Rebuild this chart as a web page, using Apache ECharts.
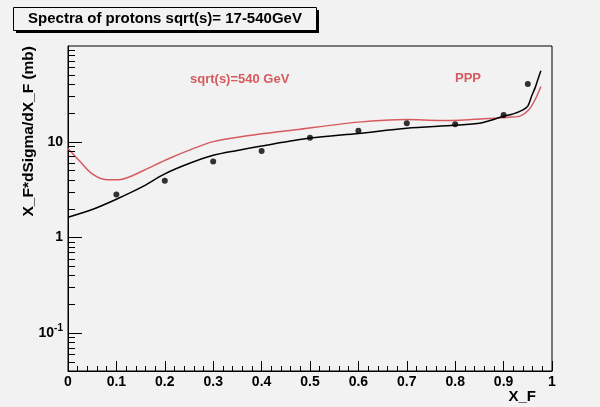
<!DOCTYPE html>
<html>
<head>
<meta charset="utf-8">
<script src="https://cdn.jsdelivr.net/npm/echarts@6/dist/echarts.min.js"></script>
<style>
  html, body { margin: 0; padding: 0; background: #f2f2f2; }
  #main { width: 600px; height: 407px; }
</style>
</head>
<body>
<div id="main"></div>
<script>
// data
const blackX = [0.0, 0.05, 0.1, 0.15, 0.2, 0.25, 0.3, 0.35, 0.4, 0.5, 0.6, 0.7, 0.8, 0.85, 0.87, 0.9, 0.92, 0.94, 0.95, 0.958, 0.965, 0.971, 0.977];
const blackY = [1.62, 1.95, 2.5, 3.3, 4.6, 5.9, 7.2, 8.1, 9.0, 10.9, 12.2, 13.8, 14.8, 15.6, 16.5, 18.4, 19.5, 21.5, 23.5, 30, 36.5, 45, 55];

const redX = [0.0, 0.025, 0.05, 0.08, 0.105, 0.135, 0.165, 0.21, 0.26, 0.3, 0.36, 0.47, 0.6, 0.7, 0.77, 0.84, 0.88, 0.91, 0.935, 0.952, 0.965, 0.977];
const redY = [8.5, 6.2, 4.6, 4.0, 4.0, 4.45, 5.25, 6.7, 8.5, 10.0, 11.3, 13.3, 16.0, 17.0, 16.6, 17.1, 17.6, 18.0, 18.6, 21.5, 27.4, 37.7];

const pointX = [0.1, 0.2, 0.3, 0.4, 0.5, 0.6, 0.7, 0.8, 0.9, 0.95];
const pointY = [2.8, 3.9, 6.2, 8.0, 11.0, 13.0, 15.6, 15.2, 19.0, 40];

const yMajor = [0.1, 1, 10];
const yMinor = [0.05, 0.06, 0.07, 0.08, 0.09, 0.2, 0.3, 0.4, 0.5, 0.6, 0.7, 0.8, 0.9,
                2, 3, 4, 5, 6, 7, 8, 9, 20, 30, 40, 50, 60, 70, 80, 90];

const FONT = 'Liberation Sans';
const RED = '#d65b5f';

function pairs(xs, ys) {
    return xs.map((x, i) => [x, ys[i]]);
}

let chart = echarts.init(document.getElementById('main'));

// ROOT style log ticks (2..9 in every decade), drawn as thin rects into the frame
let tickSeries = {
    type: 'custom',
    name: 'yticks',
    silent: true,
    clip: false,
    z: 6,
    data: yMajor.concat(yMinor).map(v => [0, v]),
    renderItem: function (params, api) {
        let v = api.value(1);
        let p = api.coord([0, v]);
        let len = yMajor.indexOf(v) >= 0 ? 14 : 7;
        return {
            type: 'rect',
            shape: { x: Math.round(p[0]), y: Math.round(p[1]), width: len, height: 1 },
            style: { fill: '#000' }
        };
    }
};

let option = {
    backgroundColor: '#f2f2f2',
    animation: false,
    grid: {
        left: 68, right: 48, top: 46, bottom: 36,
        show: true, borderColor: '#000', borderWidth: 1, backgroundColor: '#f2f2f2'
    },
    xAxis: {
        type: 'value',
        min: 0, max: 1, interval: 0.1,
        axisLine: { lineStyle: { color: '#000', width: 1 } },
        axisTick: { show: true, inside: true, length: 10, lineStyle: { color: '#000' } },
        minorTick: { show: true, splitNumber: 5, length: 5, lineStyle: { color: '#000' } },
        splitLine: { show: false },
        axisLabel: {
            color: '#000', fontFamily: FONT, fontWeight: 'bold', fontSize: 14, margin: 4,
            showMinLabel: true, showMaxLabel: true
        }
    },
    yAxis: {
        type: 'log',
        logBase: 10,
        min: 0.04,
        max: 100,
        splitLine: { show: false },
        axisLine: { show: true, lineStyle: { color: '#000', width: 1 } },
        axisTick: { show: false },
        axisLabel: {
            customValues: yMajor,
            margin: 5,
            color: '#000', fontFamily: FONT, fontWeight: 'bold', fontSize: 14,
            formatter: function (v) {
                if (Math.abs(v - 0.1) < 1e-9) return '{b|10}{s|-1}';
                return '{b|' + Math.round(v) + '}';
            },
            rich: {
                b: { fontFamily: FONT, fontWeight: 'bold', fontSize: 14, color: '#000' },
                s: { fontFamily: FONT, fontWeight: 'bold', fontSize: 10, color: '#000', padding: [0, 0, 9, 0] }
            }
        }
    },
    graphic: [
        // title box with shadow
        { type: 'rect', left: 16, top: 10, shape: { width: 303, height: 23 }, style: { fill: '#000' }, z: 10 },
        { type: 'rect', left: 13, top: 7, shape: { width: 303, height: 23 },
          style: { fill: '#f2f2f2', stroke: '#000', lineWidth: 1 }, z: 11 },
        { type: 'text', x: 165, y: 19, z: 12,
          style: { text: 'Spectra of protons sqrt(s)= 17-540GeV', fill: '#000',
                   font: 'bold 15px "Liberation Sans"', align: 'center', verticalAlign: 'middle' } },
        // axis titles
        { type: 'text', x: 29, y: 46, rotation: Math.PI / 2, z: 12,
          style: { text: 'X_F*dSigma/dX_F (mb)', fill: '#000',
                   font: 'bold 15.5px "Liberation Sans"', align: 'right', verticalAlign: 'middle' } },
        { type: 'text', x: 536, y: 397, z: 12,
          style: { text: 'X_F', fill: '#000',
                   font: 'bold 15px "Liberation Sans"', align: 'right', verticalAlign: 'middle' } },
        // in-plot labels
        { type: 'text', x: 190, y: 79, z: 12,
          style: { text: 'sqrt(s)=540 GeV', fill: RED,
                   font: 'bold 13px "Liberation Sans"', align: 'left', verticalAlign: 'middle' } },
        { type: 'text', x: 455, y: 78, z: 12,
          style: { text: 'PPP', fill: RED,
                   font: 'bold 13px "Liberation Sans"', align: 'left', verticalAlign: 'middle' } }
    ],
    series: [
        {
            name: 'sqrt(s)=540 GeV',
            type: 'line',
            data: pairs(redX, redY),
            smooth: 0.3,
            symbol: 'none',
            lineStyle: { color: RED, width: 1.5 },
            z: 3
        },
        {
            name: 'fit',
            type: 'line',
            data: pairs(blackX, blackY),
            smooth: 0.3,
            symbol: 'none',
            lineStyle: { color: '#000', width: 1.5 },
            z: 4
        },
        {
            name: 'PPP',
            type: 'scatter',
            data: pairs(pointX, pointY),
            symbol: 'circle',
            symbolSize: 6,
            itemStyle: { color: '#000' },
            z: 5
        },
        tickSeries
    ]
};

chart.setOption(option);
</script>
</body>
</html>
